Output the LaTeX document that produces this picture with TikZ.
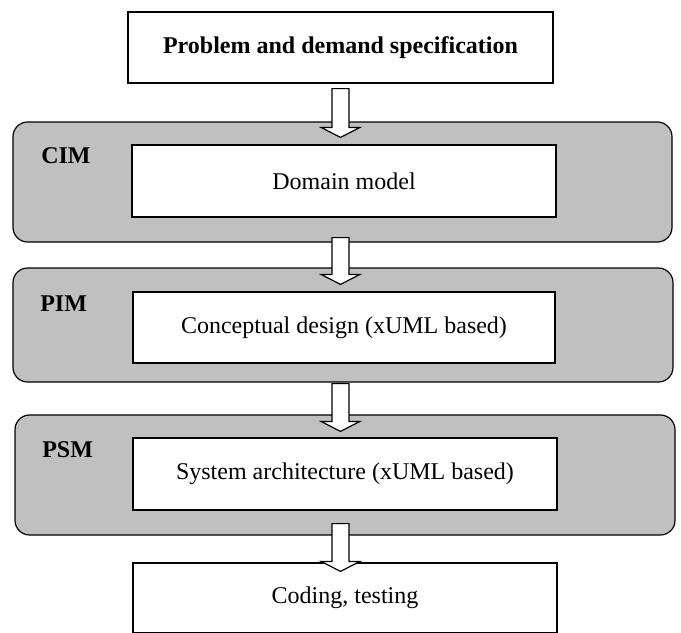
\documentclass[tikz,border=0pt]{standalone}
\usepackage{fontspec}
\setmainfont{Liberation Serif}
\usetikzlibrary{calc,fit}
\definecolor{panelgray}{RGB}{192,192,192}

% hollow block arrow: from node, to node, shaft start offset, head base offset
\newcommand{\stagearrow}[4]{%
  \draw[blockarrow] ($(#1.south -| spec.south)+(-8.5,#3)$) -- ($(#2.north -| spec.south)+(-8.5,#4)$)
    -- ++(-11,0) -- ++(19.5,10) -- ++(19.5,-10) -- ++(-11,0)
    -- ($(#1.south -| spec.south)+(8.5,#3)$) -- cycle;}

\begin{document}
\begin{tikzpicture}[
x=0.75pt, y=-0.75pt,
font=\fontsize{18}{22}\selectfont,
panel/.style={draw, line width=0.9pt, rounded corners=11pt, fill=panelgray, inner sep=0pt},
stage/.style={draw, line width=0.9pt, fill=white, inner sep=0pt, align=center, minimum width=424*0.75pt, minimum height=72*0.75pt},
tag/.style={inner sep=0pt, font=\fontsize{18}{22}\selectfont\bfseries},
blockarrow/.style={draw, line width=0.9pt, fill=white, line join=miter}
]
\clip (0,0) rectangle (681,632);

% model layers
\node[panel, fit={(13,122) (672,242)}] (cim) {};
\node[panel, fit={(13,268) (673,382)}] (pim) {};
\node[panel, fit={(15,415) (675,535)}] (psm) {};

\node[tag, anchor=base west] (cimtag) at (41,163) {CIM};
\node[tag, anchor=base west] (pimtag) at (40,311) {PIM};
\node[tag, anchor=base west] (psmtag) at (42,457) {PSM};

% process steps
\node[stage, minimum width=425*0.75pt, minimum height=71*0.75pt, font=\fontsize{18}{22}\selectfont\bfseries] (spec) at (340.5,47.5) {Problem and demand specification};
\node[stage] (domain) at (344,181) {Domain model};
\node[stage, minimum width=422*0.75pt, minimum height=71*0.75pt] (concept) at (344,327.5) {Conceptual design (xUML based)};
\node[stage] (arch) at (345,474) {System architecture (xUML based)};
\node[stage, minimum height=70*0.75pt] (code) at (345,598) {Coding, testing};

\stagearrow{spec}{cim}{5}{6}
\stagearrow{cim}{pim}{-5}{7}
\stagearrow{pim}{psm}{1}{7}
\stagearrow{psm}{code}{-12}{-1}
\end{tikzpicture}
\end{document}
